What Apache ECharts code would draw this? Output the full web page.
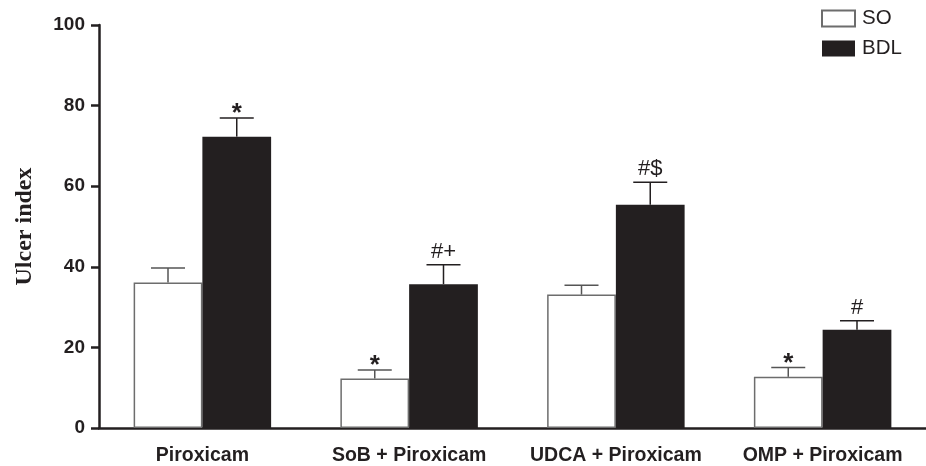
<!DOCTYPE html>
<html>
<head>
<meta charset="utf-8">
<script src="https://cdn.jsdelivr.net/npm/echarts@6/dist/echarts.min.js"></script>
<style>
html,body{margin:0;padding:0;background:#fff;}
#c{width:926px;height:466px;}
</style>
</head>
<body>
<div id="c"></div>
<script>
const categories = ['Piroxicam', 'SoB + Piroxicam', 'UDCA + Piroxicam', 'OMP + Piroxicam'];
const soMean = [36.1, 12.3, 33.1, 12.7];
const soSem = [3.6, 2.1, 2.3, 2.3];
const bdlMean = [72.3, 35.7, 55.4, 24.4];
const bdlSem = [4.6, 4.8, 5.6, 2.2];
const soMarks = ['', '*', '', '*'];
const bdlMarks = ['*', '#+', '#$', '#'];
const yTicks = [0, 20, 40, 60, 80, 100];

const GAP = 0.335;
const INK = '#231f20';
const errMarks = [soMarks, bdlMarks];

function errData(mean, sem, side) {
  return mean.map((m, i) => [i, m, sem[i], side]);
}

function renderErr(params, api) {
  const idx = api.value(0), m = api.value(1), s = api.value(2), side = api.value(3);
  const mark = errMarks[side][idx];
  const band = api.size([1, 0])[0];
  const bw = band * (1 - GAP) / 2;
  const base = api.coord([idx, m]);
  const top = api.coord([idx, m + s]);
  const cx = base[0] + (side === 0 ? -bw / 2 : bw / 2);
  const half = 17;
  const col = side === 0 ? '#555' : INK;
  const children = [
    {type: 'line', shape: {x1: cx, y1: base[1], x2: cx, y2: top[1]}, style: {stroke: col, lineWidth: 1.5}},
    {type: 'line', shape: {x1: cx - half, y1: top[1], x2: cx + half, y2: top[1]}, style: {stroke: col, lineWidth: 1.5}}
  ];
  if (mark) {
    const star = mark === '*';
    children.push({
      type: 'text',
      style: {
        text: mark, x: cx, y: top[1] + (star ? 9 : -2),
        textAlign: 'center', textVerticalAlign: 'bottom',
        fontFamily: 'Liberation Sans, Arial, sans-serif',
        fontSize: star ? 26 : 22, fontWeight: star ? 'bold' : 'normal',
        fill: INK
      }
    });
  }
  return {type: 'group', children: children};
}

const chart = echarts.init(document.getElementById('c'), null, {renderer: 'canvas'});
chart.setOption({
  animation: false,
  backgroundColor: '#fff',
  grid: {left: 99, top: 25, bottom: 38, width: 836, containLabel: false},
  legend: {
    left: 816, top: 3, orient: 'vertical', itemGap: 9,
    itemWidth: 33, itemHeight: 16, icon: 'rect',
    textStyle: {fontFamily: 'Liberation Sans, Arial, sans-serif', fontSize: 20.5, color: INK, padding: [0, 0, 0, 2]},
    data: ['SO', 'BDL']
  },
  xAxis: {
    type: 'category', data: categories,
    axisLine: {lineStyle: {color: INK, width: 2.5}},
    axisTick: {alignWithLabel: true, length: 8, lineStyle: {color: INK, width: 2.5}},
    axisLabel: {margin: 18, color: INK, fontFamily: 'Liberation Sans, Arial, sans-serif', fontSize: 19.5, fontWeight: 'bold', interval: 0}
  },
  yAxis: {
    type: 'value', min: yTicks[0], max: yTicks[yTicks.length - 1], interval: 20,
    name: 'Ulcer index', nameLocation: 'middle', nameGap: 62,
    nameTextStyle: {fontFamily: 'Liberation Serif, Times New Roman, serif', fontWeight: 'bold', fontSize: 24, color: INK},
    splitLine: {show: false},
    axisLine: {show: true, lineStyle: {color: INK, width: 2.5}},
    axisTick: {show: true, length: 8, lineStyle: {color: INK, width: 2.5}},
    axisLabel: {margin: 14, color: INK, fontFamily: 'Liberation Sans, Arial, sans-serif', fontSize: 19, fontWeight: 'bold'}
  },
  series: [
    {name: 'SO', type: 'bar', data: soMean, barGap: '0%', barCategoryGap: (GAP * 100) + '%',
     itemStyle: {color: '#fff', borderColor: '#6d6d6d', borderWidth: 1.5}},
    {name: 'BDL', type: 'bar', data: bdlMean, barGap: '0%', barCategoryGap: (GAP * 100) + '%',
     itemStyle: {color: INK, borderColor: INK, borderWidth: 0}},
    {type: 'custom', renderItem: renderErr, data: errData(soMean, soSem, 0), z: 5, silent: true},
    {type: 'custom', renderItem: renderErr, data: errData(bdlMean, bdlSem, 1), z: 5, silent: true}
  ]
});
</script>
</body>
</html>
